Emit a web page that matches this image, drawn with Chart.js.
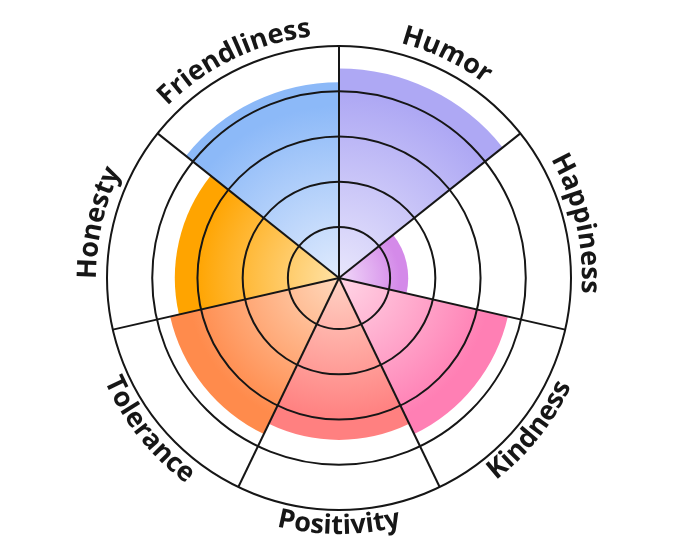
<!DOCTYPE html>
<html>
<head>
<meta charset="utf-8">
<script src="https://cdn.jsdelivr.net/npm/chart.js@4/dist/chart.umd.min.js"></script>
<style>
html,body{margin:0;padding:0;background:#ffffff;}
#wrap{width:680px;height:557px;position:relative;}
</style>
</head>
<body>
<div id="wrap"><canvas id="c" width="680" height="557"></canvas></div>
<script>
const categories = ['Humor', 'Happiness', 'Kindness', 'Positivity', 'Tolerance', 'Honesty', 'Friendliness'];
const values = [4.5, 1.4, 3.7, 3.45, 3.7, 3.5, 4.2];
const tickValues = [1, 2, 3, 4, 5];
const outerColors = ['#aea8f4', '#d48ae9', '#ff7fb4', '#ff8080', '#ff8b4c', '#ffa400', '#8cb9f8'];
const innerColors = ['#e8e6fc', '#f1d9f9', '#ffd6e6', '#ffd2c4', '#ffd8bc', '#ffe2a6', '#e0ebfd'];

const LABEL_FONT = 27;

function segFill(ctx) {
  const chart = ctx.chart;
  const s = chart.scales && chart.scales.r;
  const i = ctx.dataIndex;
  if (i === undefined) return outerColors[0];
  if (!s || !s.drawingArea) return outerColors[i];
  const R = s.getDistanceFromCenterForValue(values[i]);
  const g = chart.ctx.createRadialGradient(s.xCenter, s.yCenter, 0, s.xCenter, s.yCenter, Math.max(R, 1));
  g.addColorStop(0, innerColors[i]);
  g.addColorStop(0.88, outerColors[i]);
  g.addColorStop(1, outerColors[i]);
  return g;
}

const curvedLabels = {
  id: 'curvedLabels',
  afterDraw(chart) {
    const s = chart.scales.r;
    const c = chart.ctx;
    const labels = chart.data.labels;
    const n = labels.length;
    c.save();
    c.font = '700 ' + LABEL_FONT + 'px "Open Sans", "Noto Sans", sans-serif';
    c.fillStyle = '#161616';
    c.textAlign = 'center';
    c.textBaseline = 'alphabetic';
    labels.forEach((lab, i) => {
      const mid = (i + 0.5) * 2 * Math.PI / n;
      const flip = mid > Math.PI / 2 && mid < 3 * Math.PI / 2;
      const R = flip ? s.drawingArea + 24 : s.drawingArea + 11;
      const total = c.measureText(lab).width;
      const span = total / R;
      for (let k = 0; k < lab.length; k++) {
        const off = c.measureText(lab.slice(0, k)).width;
        const w = c.measureText(lab[k]).width;
        const d = (off + w / 2) / R;
        const a = flip ? mid + span / 2 - d : mid - span / 2 + d;
        const x = s.xCenter + R * Math.sin(a);
        const y = s.yCenter - R * Math.cos(a);
        c.save();
        c.translate(x, y);
        c.rotate(flip ? a + Math.PI : a);
        c.fillText(lab[k], 0, 0);
        c.restore();
      }
    });
    c.restore();
  }
};

function build() {
  new Chart(document.getElementById('c'), {
    type: 'polarArea',
    data: {
      labels: categories,
      datasets: [{
        data: values,
        backgroundColor: segFill,
        borderWidth: 0
      }]
    },
    options: {
      responsive: false,
      devicePixelRatio: 1,
      animation: false,
      layout: { padding: { top: 46, bottom: 47, left: 0, right: 2 } },
      plugins: { legend: { display: false }, tooltip: { enabled: false } },
      scales: {
        r: {
          min: -0.13,
          max: 5,
          afterBuildTicks: (scale) => { scale.ticks = tickValues.map(v => ({ value: v })); },
          ticks: { display: false },
          pointLabels: { display: false },
          grid: { circular: true, color: '#161616', lineWidth: 2, z: 1 },
          angleLines: { display: true, color: '#161616', lineWidth: 2 }
        }
      }
    },
    plugins: [curvedLabels]
  });
}

if (document.fonts && document.fonts.load) {
  Promise.race([
    document.fonts.load('700 27px "Open Sans"'),
    new Promise(r => setTimeout(r, 800))
  ]).then(build, build);
} else {
  build();
}
</script>
</body>
</html>
